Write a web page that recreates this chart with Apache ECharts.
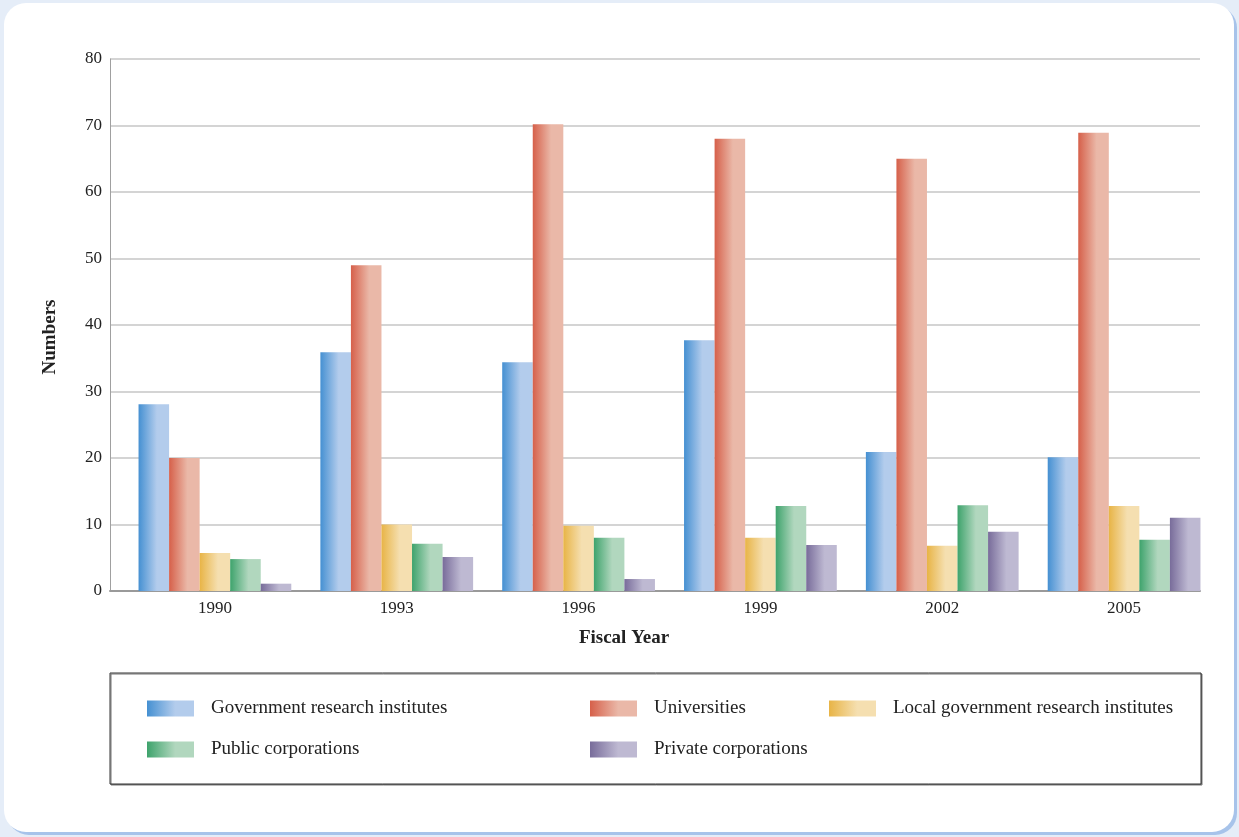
<!DOCTYPE html>
<html>
<head>
<meta charset="utf-8">
<script src="https://cdn.jsdelivr.net/npm/echarts@6/dist/echarts.min.js"></script>
<style>
html,body{margin:0;padding:0;background:#e5edf8;}
#main{width:1239px;height:837px;}
</style>
</head>
<body>
<div id="main"></div>
<script>
var years = ['1990', '1993', '1996', '1999', '2002', '2005'];
var names = ['Government research institutes', 'Universities', 'Local government research institutes', 'Public corporations', 'Private corporations'];
var govt = [28.1, 35.9, 34.4, 37.7, 20.9, 20.1];
var univ = [20.0, 49.0, 70.2, 68.0, 65.0, 68.9];
var localGovt = [5.7, 10.0, 9.8, 8.0, 6.8, 12.8];
var publicCorp = [4.8, 7.1, 8.0, 12.8, 12.9, 7.7];
var privateCorp = [1.1, 5.1, 1.8, 6.9, 8.9, 11.0];
var yTicks = [0, 10, 20, 30, 40, 50, 60, 70, 80];

var FONT = '"Liberation Serif", "DejaVu Serif", serif';

// left dark -> right light, like the original shading
function grad(c1, c2) {
  return new echarts.graphic.LinearGradient(0, 0, 1, 0, [
    {offset: 0, color: c1},
    {offset: 0.6, color: c2},
    {offset: 1, color: c2}
  ]);
}
var fills = [
  grad('#4590d2', '#b3ccec'),
  grad('#d6604a', '#eab8a8'),
  grad('#e8b446', '#f5dfb0'),
  grad('#3ea36c', '#b1d7be'),
  grad('#786c9a', '#beb9d2')
];
var values = [govt, univ, localGovt, publicCorp, privateCorp];

var series = [];
for (var i = 0; i < names.length; i++) {
  series.push({
    name: names[i],
    type: 'bar',
    xAxisIndex: 1,
    yAxisIndex: 1,
    data: values[i],
    barGap: '0%',
    barCategoryGap: '16%',
    itemStyle: {color: fills[i]}
  });
}

function legendCol(left, items) {
  return {
    orient: 'vertical',
    left: left,
    top: 699,
    padding: 0,
    itemWidth: 47,
    itemHeight: 16,
    itemGap: 22,
    icon: 'rect',
    data: items,
    textStyle: {fontFamily: FONT, fontSize: 19, color: '#222', padding: [0, 0, 0, 12]}
  };
}

var myChart = echarts.init(document.getElementById('main'));
var option = {
  backgroundColor: '#e5edf8',
  animation: false,
  graphic: [
    {
      type: 'rect', z: -10,
      shape: {x: 4, y: 3, width: 1230, height: 829, r: 22},
      style: {fill: '#ffffff', shadowColor: '#a7c3ea', shadowOffsetX: 3, shadowOffsetY: 3, shadowBlur: 0}
    },
    {
      type: 'rect', z: -5,
      shape: {x: 110, y: 673, width: 1091, height: 111},
      style: {fill: '#ffffff', stroke: '#333', lineWidth: 1, shadowColor: '#777', shadowOffsetX: 1, shadowOffsetY: 1, shadowBlur: 0}
    },
    {
      type: 'text', x: 624, y: 638,
      style: {text: 'Fiscal Year', font: 'bold 19px ' + FONT, fill: '#222', align: 'center', verticalAlign: 'middle'}
    },
    {
      type: 'text', x: 50, y: 337, rotation: Math.PI / 2,
      style: {text: 'Numbers', font: 'bold 19px ' + FONT, fill: '#222', align: 'center', verticalAlign: 'middle'}
    }
  ],
  legend: [
    legendCol(147, [names[0], names[3]]),
    legendCol(590, [names[1], names[4]]),
    legendCol(829, [names[2]])
  ],
  grid: [
    {left: 110, right: 39, top: 59, bottom: 246},
    {left: 124, right: 24, top: 59, bottom: 246}
  ],
  xAxis: [
    {
      gridIndex: 0, type: 'value', min: 0, max: 1,
      axisLine: {show: true, lineStyle: {color: '#9a9a9a', width: 2}},
      axisTick: {show: false}, axisLabel: {show: false}, splitLine: {show: false}
    },
    {
      gridIndex: 1, type: 'category', data: years,
      axisLine: {show: false}, axisTick: {show: false},
      axisLabel: {fontFamily: FONT, fontSize: 17, color: '#222', margin: 9}
    }
  ],
  yAxis: [
    {
      gridIndex: 0, type: 'value', min: yTicks[0], max: yTicks[yTicks.length - 1], interval: 10,
      axisLine: {show: true, lineStyle: {color: '#a0a0a0', width: 1}},
      axisTick: {show: false},
      axisLabel: {fontFamily: FONT, fontSize: 17, color: '#222', margin: 8},
      splitLine: {show: true, lineStyle: {color: '#c6c6c6', width: 1.5}}
    },
    {
      gridIndex: 1, type: 'value', min: 0, max: 80, show: false
    }
  ],
  series: series
};
myChart.setOption(option);
</script>
</body>
</html>
